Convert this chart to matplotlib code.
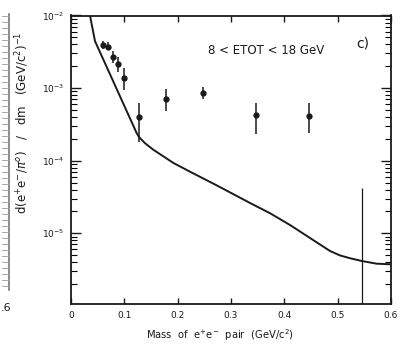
import matplotlib
matplotlib.use("Agg")
import matplotlib.pyplot as plt
from matplotlib.ticker import LogLocator, NullFormatter, FixedLocator
from matplotlib.lines import Line2D

# Data
mass = [0.0594, 0.0688, 0.0788, 0.0887, 0.0988, 0.1275, 0.1775, 0.248, 0.347, 0.446]
rate = [3.93e-3, 3.72e-3, 2.68e-3, 2.15e-3, 1.39e-3, 4.04e-4, 7.08e-4, 8.65e-4, 4.26e-4, 4.17e-4]
rate_hi = [4.50e-3, 4.35e-3, 3.27e-3, 2.65e-3, 1.87e-3, 6.18e-4, 9.7e-4, 1.045e-3, 6.18e-4, 6.3e-4]
rate_lo = [3.42e-3, 3.35e-3, 2.20e-3, 1.68e-3, 9.4e-4, 1.83e-4, 4.89e-4, 7.0e-4, 2.33e-4, 2.43e-4]

curve_m = [0.033, 0.0356, 0.045, 0.123, 0.126, 0.129, 0.1388, 0.154, 0.192,
           0.2231, 0.2719, 0.342, 0.3731, 0.4106, 0.4481, 0.4856, 0.5044, 0.5231,
           0.545, 0.573, 0.598]
curve_y = [1.3e-2, 1.0e-2, 4.43e-3, 2.41e-4, 2.2e-4, 2.06e-4, 1.74e-4, 1.42e-4, 9.3e-5,
           7.05e-5, 4.62e-5, 2.47e-5, 1.89e-5, 1.3e-5, 8.6e-6, 5.7e-6, 4.95e-6, 4.53e-6,
           4.15e-6, 3.81e-6, 3.74e-6]

eta_mass = 0.545
eta_top = 4.2e-5

xticks = [0, 0.1, 0.2, 0.3, 0.4, 0.5, 0.6]
xticklabels = ["0", "0.1", "0.2", "0.3", "0.4", "0.5", "0.6"]
yticks = [1e-5, 1e-4, 1e-3, 1e-2]
yticklabels = [r"$10^{-5}$", r"$10^{-4}$", r"$10^{-3}$", r"$10^{-2}$"]

ink = "#1a1a1a"

fig = plt.figure(figsize=(4.05, 3.44), dpi=100)
ax = fig.add_axes([71/405, 1-304/344, 320/405, (304-15.5)/344])

ax.plot(curve_m, curve_y, color=ink, lw=1.4)
yerr = [[r - l for r, l in zip(rate, rate_lo)], [h - r for r, h in zip(rate, rate_hi)]]
ax.errorbar(mass, rate, yerr=yerr, fmt="o", ms=3.5, color=ink, ecolor=ink,
            elinewidth=1.1, capsize=0)
ax.vlines(eta_mass, 1e-7, eta_top, color=ink, lw=0.9)

ax.set_yscale("log")
ax.set_xlim(0, 0.6)
ax.set_ylim(1.06e-6, 1e-2)

ax.xaxis.set_major_locator(FixedLocator(xticks))
ax.set_xticklabels(xticklabels, fontsize=6.5)
ax.yaxis.set_major_locator(FixedLocator(yticks))
ax.set_yticklabels(yticklabels, fontsize=6.5)
ax.yaxis.set_minor_locator(LogLocator(base=10, subs=range(2, 10)))
ax.yaxis.set_minor_formatter(NullFormatter())

ax.tick_params(axis="x", which="major", direction="in", length=4, width=1,
               top=True, bottom=True, pad=5, colors=ink)
ax.tick_params(axis="y", which="major", direction="in", length=7, width=1,
               left=True, right=True, pad=5, colors=ink)
ax.tick_params(axis="y", which="minor", direction="in", length=4.5, width=0.8,
               left=True, right=True)
for s in ax.spines.values():
    s.set_linewidth(1.3)
    s.set_color(ink)

ax.set_xlabel(r"Mass  of  e$^{+}$e$^{-}$  pair  (GeV/c$^{2}$)", fontsize=7.2, color=ink)
ax.xaxis.set_label_coords(0.466, -0.082)
ax.set_ylabel(r"d(e$^{+}$e$^{-}$/$\pi^{o}$)   /   dm   (GeV/c$^{2}$)$^{-1}$", fontsize=8.5,
              color=ink)
ax.yaxis.set_label_coords(-0.125, 0.627)

ax.text(0.611, 0.878, "8 < ETOT < 18 GeV", transform=ax.transAxes, fontsize=8.5,
        ha="center", va="center", color=ink)
ax.text(0.9125, 0.903, "c)", transform=ax.transAxes, fontsize=10,
        ha="center", va="center", color=ink)

# Fragment of the neighbouring panel at the left edge
fig.add_artist(Line2D([9/405, 9/405], [1-14/344, 1-290/344], transform=fig.transFigure,
                      color="#777777", lw=1.2))
for py in range(16, 290, 6):
    fig.add_artist(Line2D([2/405, 9/405], [1-py/344, 1-py/344], transform=fig.transFigure,
                          color="#999999", lw=0.6))
fig.text(6/405, 1-308/344, ".6", fontsize=8, ha="center", va="center", color=ink)

fig.savefig("out.png", dpi=100)
